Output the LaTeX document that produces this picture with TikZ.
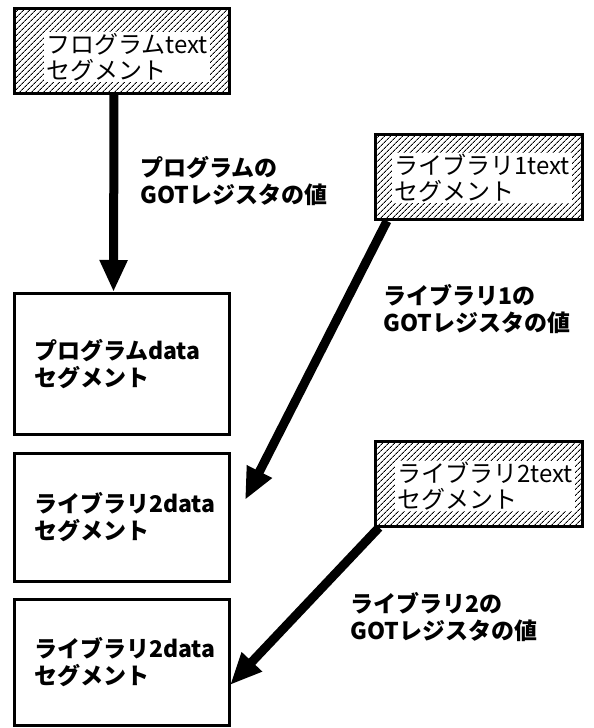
\documentclass[tikz,border=0pt]{standalone}
\usepackage{fontspec}
\setmainfont{Noto Sans CJK JP}
\usetikzlibrary{arrows.meta,patterns.meta}

\tikzset{
  textseg/.style={draw, line width=3pt, inner sep=0pt, minimum height=85pt,
    pattern={Lines[angle=45,distance=4pt,line width=0.9pt]}},
  segname/.style={fill=white, align=left, inner xsep=2pt, inner ysep=1pt,
    font=\fontsize{24}{26}\selectfont},
  dataseg/.style={draw, line width=3pt, minimum width=214pt, text width=175pt,
    inner xsep=20pt, align=left, font=\bfseries\fontsize{23}{27}\selectfont},
  gotarrow/.style={line width=9pt, -{Triangle[length=32pt,width=26pt]}},
  gotlabel/.style={align=left, anchor=north west, inner sep=0pt,
    font=\bfseries\fontsize{23}{27}\selectfont}
}

\begin{document}
\begin{tikzpicture}[x=1pt,y=-1pt]
\useasboundingbox (0,0) rectangle (594,728);

% text segments
\node[textseg, minimum width=215pt] (ptext) at (122,51) {};
\node[segname] (ptextname) at (127,57) {フログラムtext\\セグメント};
\node[textseg, minimum width=207pt] (l1text) at (479,177) {};
\node[segname] (l1textname) at (482,178) {ライブラリ1text\\セグメント};
\node[textseg, minimum width=207pt] (l2text) at (479,483.5) {};
\node[segname] (l2textname) at (485,486) {ライブラリ2text\\セグメント};

% data segments
\node[dataseg, minimum height=141pt] (pdata) at (121.5,364) {プログラムdata\\セグメント};
\node[dataseg, minimum height=128pt] (l2data) at (121.5,517.5) {ライブラリ2data\\セグメント};
\node[dataseg, minimum height=126pt] (l2datab) at (121.5,662.5) {ライブラリ2data\\セグメント};

% GOT register values
\coordinate (l1tip) at (245,500);
\coordinate (l2tip) at (230,685);
\draw[gotarrow] ([xshift=-8pt]ptext.south) -- ([xshift=-8pt]pdata.north);
\draw[gotarrow] ([xshift=-92pt]l1text.south) -- (l1tip);
\draw[gotarrow] ([xshift=-100pt]l2text.south) -- (l2tip);

\node[gotlabel] (plabel) at (140,156) {プログラムの\\GOTレジスタの値};
\node[gotlabel] (l1label) at (383,284) {ライブラリ1の\\GOTレジスタの値};
\node[gotlabel] (l2label) at (350,592) {ライブラリ2の\\GOTレジスタの値};

\end{tikzpicture}
\end{document}
